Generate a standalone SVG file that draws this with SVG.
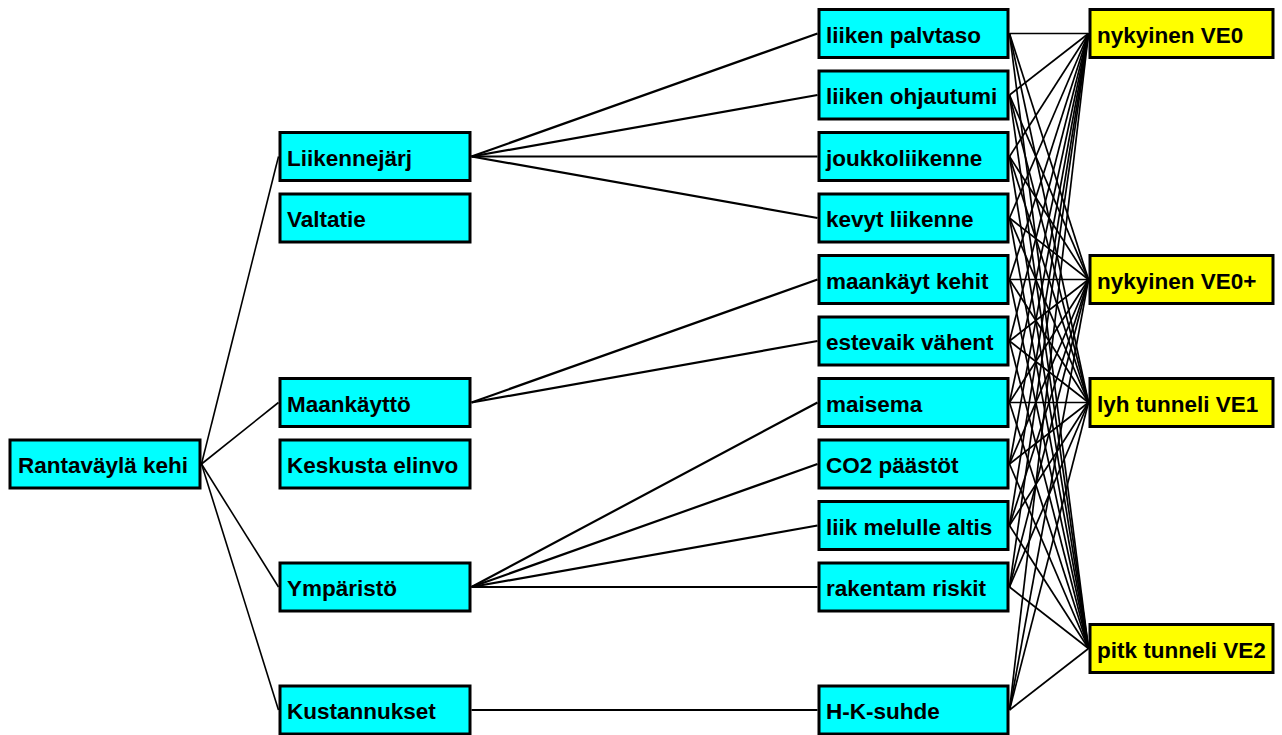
<svg xmlns="http://www.w3.org/2000/svg" width="1282" height="735" viewBox="0 0 1282 735">
  <style>
    .box rect { stroke: #000; stroke-width: 3; }
    .crit rect { fill: #00ffff; }
    .alt rect { fill: #ffff00; }
    .box text { font-family: "Liberation Sans", Arial, sans-serif; font-weight: bold; font-size: 22.5px; fill: #000; }
    #connectors line { stroke: #000; fill: none; }
    .l0 { stroke-width: 1.6; }
    .l1 { stroke-width: 2.2; }
    .l2 { stroke-width: 1.7; }
  </style>
  <rect width="1282" height="735" fill="#fff"/>

  <g id="connectors">
    <!-- root to main criteria -->
    <line class="l0" x1="201.5" y1="464" x2="278.5" y2="156.5"/>
    <line class="l0" x1="201.5" y1="464" x2="278.5" y2="402.5"/>
    <line class="l0" x1="201.5" y1="464" x2="278.5" y2="587"/>
    <line class="l0" x1="201.5" y1="464" x2="278.5" y2="710"/>
    <!-- main criteria to sub-criteria -->
    <line class="l1" x1="471.5" y1="156.5" x2="817.5" y2="33.5"/>
    <line class="l1" x1="471.5" y1="156.5" x2="817.5" y2="95"/>
    <line class="l1" x1="471.5" y1="156.5" x2="817.5" y2="156.5"/>
    <line class="l1" x1="471.5" y1="156.5" x2="817.5" y2="218"/>
    <line class="l1" x1="471.5" y1="402.5" x2="817.5" y2="279.5"/>
    <line class="l1" x1="471.5" y1="402.5" x2="817.5" y2="341"/>
    <line class="l1" x1="471.5" y1="587" x2="817.5" y2="402.5"/>
    <line class="l1" x1="471.5" y1="587" x2="817.5" y2="464"/>
    <line class="l1" x1="471.5" y1="587" x2="817.5" y2="525.5"/>
    <line class="l1" x1="471.5" y1="587" x2="817.5" y2="587"/>
    <line class="l1" x1="471.5" y1="710" x2="817.5" y2="710"/>
    <!-- sub-criteria to alternatives -->
    <g class="l2">
      <line class="l2" x1="1009.5" y1="33.5" x2="1088.5" y2="33.5"/>
      <line class="l2" x1="1009.5" y1="33.5" x2="1088.5" y2="279.5"/>
      <line class="l2" x1="1009.5" y1="33.5" x2="1088.5" y2="402.5"/>
      <line class="l2" x1="1009.5" y1="33.5" x2="1088.5" y2="648.5"/>
      <line class="l2" x1="1009.5" y1="95" x2="1088.5" y2="33.5"/>
      <line class="l2" x1="1009.5" y1="95" x2="1088.5" y2="279.5"/>
      <line class="l2" x1="1009.5" y1="95" x2="1088.5" y2="402.5"/>
      <line class="l2" x1="1009.5" y1="95" x2="1088.5" y2="648.5"/>
      <line class="l2" x1="1009.5" y1="156.5" x2="1088.5" y2="33.5"/>
      <line class="l2" x1="1009.5" y1="156.5" x2="1088.5" y2="279.5"/>
      <line class="l2" x1="1009.5" y1="156.5" x2="1088.5" y2="402.5"/>
      <line class="l2" x1="1009.5" y1="156.5" x2="1088.5" y2="648.5"/>
      <line class="l2" x1="1009.5" y1="218" x2="1088.5" y2="33.5"/>
      <line class="l2" x1="1009.5" y1="218" x2="1088.5" y2="279.5"/>
      <line class="l2" x1="1009.5" y1="218" x2="1088.5" y2="402.5"/>
      <line class="l2" x1="1009.5" y1="218" x2="1088.5" y2="648.5"/>
      <line class="l2" x1="1009.5" y1="279.5" x2="1088.5" y2="33.5"/>
      <line class="l2" x1="1009.5" y1="279.5" x2="1088.5" y2="279.5"/>
      <line class="l2" x1="1009.5" y1="279.5" x2="1088.5" y2="402.5"/>
      <line class="l2" x1="1009.5" y1="279.5" x2="1088.5" y2="648.5"/>
      <line class="l2" x1="1009.5" y1="341" x2="1088.5" y2="33.5"/>
      <line class="l2" x1="1009.5" y1="341" x2="1088.5" y2="279.5"/>
      <line class="l2" x1="1009.5" y1="341" x2="1088.5" y2="402.5"/>
      <line class="l2" x1="1009.5" y1="341" x2="1088.5" y2="648.5"/>
      <line class="l2" x1="1009.5" y1="402.5" x2="1088.5" y2="33.5"/>
      <line class="l2" x1="1009.5" y1="402.5" x2="1088.5" y2="279.5"/>
      <line class="l2" x1="1009.5" y1="402.5" x2="1088.5" y2="402.5"/>
      <line class="l2" x1="1009.5" y1="402.5" x2="1088.5" y2="648.5"/>
      <line class="l2" x1="1009.5" y1="464" x2="1088.5" y2="33.5"/>
      <line class="l2" x1="1009.5" y1="464" x2="1088.5" y2="279.5"/>
      <line class="l2" x1="1009.5" y1="464" x2="1088.5" y2="402.5"/>
      <line class="l2" x1="1009.5" y1="464" x2="1088.5" y2="648.5"/>
      <line class="l2" x1="1009.5" y1="525.5" x2="1088.5" y2="33.5"/>
      <line class="l2" x1="1009.5" y1="525.5" x2="1088.5" y2="279.5"/>
      <line class="l2" x1="1009.5" y1="525.5" x2="1088.5" y2="402.5"/>
      <line class="l2" x1="1009.5" y1="525.5" x2="1088.5" y2="648.5"/>
      <line class="l2" x1="1009.5" y1="587" x2="1088.5" y2="33.5"/>
      <line class="l2" x1="1009.5" y1="587" x2="1088.5" y2="279.5"/>
      <line class="l2" x1="1009.5" y1="587" x2="1088.5" y2="402.5"/>
      <line class="l2" x1="1009.5" y1="587" x2="1088.5" y2="648.5"/>
      <line class="l2" x1="1009.5" y1="710" x2="1088.5" y2="33.5"/>
      <line class="l2" x1="1009.5" y1="710" x2="1088.5" y2="279.5"/>
      <line class="l2" x1="1009.5" y1="710" x2="1088.5" y2="402.5"/>
      <line class="l2" x1="1009.5" y1="710" x2="1088.5" y2="648.5"/>
    </g>
  </g>

  <!-- goal -->
  <g id="n-rantavayla" class="box crit"><rect x="10" y="440" width="190" height="48"/><text x="18" y="473">Rantaväylä kehi</text></g>

  <!-- main criteria -->
  <g id="n-liikennejarj" class="box crit"><rect x="280" y="132.5" width="190" height="48"/><text x="287" y="165.5">Liikennejärj</text></g>
  <g id="n-valtatie" class="box crit"><rect x="280" y="194" width="190" height="48"/><text x="287" y="227">Valtatie</text></g>
  <g id="n-maankaytto" class="box crit"><rect x="280" y="378.5" width="190" height="48"/><text x="287" y="411.5">Maankäyttö</text></g>
  <g id="n-keskusta" class="box crit"><rect x="280" y="440" width="190" height="48"/><text x="287" y="473">Keskusta elinvo</text></g>
  <g id="n-ymparisto" class="box crit"><rect x="280" y="563" width="190" height="48"/><text x="287" y="596">Ympäristö</text></g>
  <g id="n-kustannukset" class="box crit"><rect x="280" y="686" width="190" height="48"/><text x="287" y="719">Kustannukset</text></g>

  <!-- sub-criteria -->
  <g id="n-palvtaso" class="box crit"><rect x="819" y="9.5" width="189" height="48"/><text x="826" y="42.5">liiken palvtaso</text></g>
  <g id="n-ohjautumi" class="box crit"><rect x="819" y="71" width="189" height="48"/><text x="826" y="104">liiken ohjautumi</text></g>
  <g id="n-joukkoliikenne" class="box crit"><rect x="819" y="132.5" width="189" height="48"/><text x="826" y="165.5">joukkoliikenne</text></g>
  <g id="n-kevyt" class="box crit"><rect x="819" y="194" width="189" height="48"/><text x="826" y="227">kevyt liikenne</text></g>
  <g id="n-maankayt-kehit" class="box crit"><rect x="819" y="255.5" width="189" height="48"/><text x="826" y="288.5">maankäyt kehit</text></g>
  <g id="n-estevaik" class="box crit"><rect x="819" y="317" width="189" height="48"/><text x="826" y="350">estevaik vähent</text></g>
  <g id="n-maisema" class="box crit"><rect x="819" y="378.5" width="189" height="48"/><text x="826" y="411.5">maisema</text></g>
  <g id="n-co2" class="box crit"><rect x="819" y="440" width="189" height="48"/><text x="826" y="473">CO2 päästöt</text></g>
  <g id="n-melu" class="box crit"><rect x="819" y="501.5" width="189" height="48"/><text x="826" y="534.5">liik melulle altis</text></g>
  <g id="n-riskit" class="box crit"><rect x="819" y="563" width="189" height="48"/><text x="826" y="596">rakentam riskit</text></g>
  <g id="n-hk" class="box crit"><rect x="819" y="686" width="189" height="48"/><text x="826" y="719">H-K-suhde</text></g>

  <!-- alternatives -->
  <g id="a-ve0" class="box alt"><rect x="1090" y="9.5" width="183" height="48"/><text x="1097" y="42.5">nykyinen VE0</text></g>
  <g id="a-ve0plus" class="box alt"><rect x="1090" y="255.5" width="183" height="48"/><text x="1097" y="288.5">nykyinen VE0+</text></g>
  <g id="a-ve1" class="box alt"><rect x="1090" y="378.5" width="183" height="48"/><text x="1097" y="411.5">lyh tunneli VE1</text></g>
  <g id="a-ve2" class="box alt"><rect x="1090" y="624.5" width="183" height="48"/><text x="1097" y="657.5">pitk tunneli VE2</text></g>
</svg>
